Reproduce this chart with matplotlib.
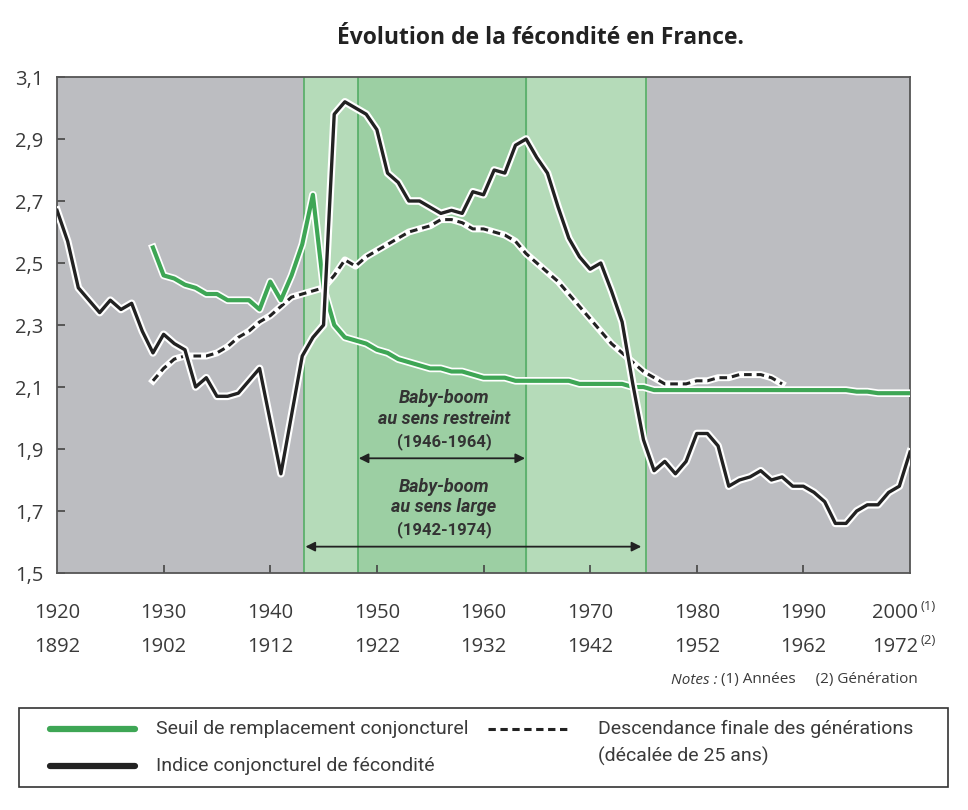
import matplotlib
matplotlib.use("Agg")
import matplotlib.pyplot as plt
import matplotlib.patheffects as pe
import matplotlib.transforms as mtransforms
from matplotlib.lines import Line2D
from matplotlib.patches import Rectangle

# indice conjoncturel de fécondité, 1920-2000
icf_years = list(range(1920, 2001))
icf = [2.67, 2.57, 2.42, 2.38, 2.34, 2.38, 2.35, 2.37, 2.28, 2.21,
       2.27, 2.24, 2.22, 2.10, 2.13, 2.07, 2.07, 2.08, 2.12, 2.16,
       1.99, 1.82, 2.01, 2.20, 2.26, 2.30, 2.98, 3.02, 3.00, 2.98,
       2.93, 2.79, 2.76, 2.70, 2.70, 2.68, 2.66, 2.67, 2.66, 2.73,
       2.72, 2.80, 2.79, 2.88, 2.90, 2.84, 2.79, 2.68, 2.58, 2.52,
       2.48, 2.50, 2.41, 2.31, 2.11, 1.93, 1.83, 1.86, 1.82, 1.86,
       1.95, 1.95, 1.91, 1.78, 1.80, 1.81, 1.83, 1.80, 1.81, 1.78,
       1.78, 1.76, 1.73, 1.66, 1.66, 1.70, 1.72, 1.72, 1.76, 1.78,
       1.89]

# seuil de remplacement conjoncturel, 1929-2000
seuil_years = list(range(1929, 2001))
seuil = [2.55, 2.46, 2.45, 2.43, 2.42, 2.40, 2.40, 2.38, 2.38, 2.38,
         2.35, 2.44, 2.38, 2.46, 2.56, 2.72, 2.42, 2.30, 2.26, 2.25,
         2.24, 2.22, 2.21, 2.19, 2.18, 2.17, 2.16, 2.16, 2.15, 2.15,
         2.14, 2.13, 2.13, 2.13, 2.12, 2.12, 2.12, 2.12, 2.12, 2.12,
         2.11, 2.11, 2.11, 2.11, 2.11, 2.10, 2.10, 2.09, 2.09, 2.09,
         2.09, 2.09, 2.09, 2.09, 2.09, 2.09, 2.09, 2.09, 2.09, 2.09,
         2.09, 2.09, 2.09, 2.09, 2.09, 2.09, 2.085, 2.085, 2.08, 2.08,
         2.08, 2.08]

# descendance finale (décalée de 25 ans), 1929-1988
desc_years = list(range(1929, 1989))
desc = [2.12, 2.16, 2.19, 2.20, 2.20, 2.20, 2.21, 2.23, 2.26, 2.28,
        2.31, 2.33, 2.36, 2.39, 2.40, 2.41, 2.42, 2.46, 2.51, 2.49,
        2.52, 2.54, 2.56, 2.58, 2.60, 2.61, 2.62, 2.64, 2.64, 2.63,
        2.61, 2.61, 2.60, 2.59, 2.57, 2.53, 2.50, 2.47, 2.44, 2.40,
        2.36, 2.32, 2.28, 2.24, 2.21, 2.18, 2.15, 2.13, 2.11, 2.11,
        2.11, 2.12, 2.12, 2.13, 2.13, 2.14, 2.14, 2.14, 2.13, 2.11]

x_ticks = [1920, 1930, 1940, 1950, 1960, 1970, 1980, 1990, 2000]
gen_labels = ["1892", "1902", "1912", "1922", "1932", "1942", "1952", "1962", "1972"]
y_ticks = [1.5, 1.7, 1.9, 2.1, 2.3, 2.5, 2.7, 2.9, 3.1]

large = (1943.2, 1975.2)
restreint = (1948.2, 1964.0)

GRAY = "#bcbdc1"
LIGHT = "#b5dbb9"
DARK = "#9ccfa3"
EDGE = "#55ad66"
GREEN = "#3ea655"
INK = "#222222"
TXT = "#3a3a3a"
NARROW = ["Roboto", "DejaVu Sans"]

plt.rcParams["font.family"] = ["Open Sans", "DejaVu Sans"]

W, H = 968, 810
fig = plt.figure(figsize=(W / 100, H / 100), dpi=100)
ax = fig.add_axes([57 / W, 1 - 573 / H, (910 - 57) / W, (573 - 77) / H])

ax.set_facecolor(GRAY)
ax.axvspan(*large, color=LIGHT, zorder=0)
ax.axvspan(*restreint, color=DARK, zorder=0)
for xv in list(large) + list(restreint):
    ax.axvline(xv, color=EDGE, lw=1.2, zorder=1)

halo = [pe.Stroke(linewidth=5.5, foreground="white", joinstyle="round"), pe.Normal()]
ax.plot(seuil_years, seuil, color=GREEN, lw=3, zorder=4, path_effects=halo,
        solid_joinstyle="round")
ax.plot(desc_years, desc, color="white", lw=5, zorder=3, solid_joinstyle="round")
ax.plot(desc_years, desc, color=INK, lw=2.2, dashes=(2.5, 1.6), zorder=3.5)
ax.plot(icf_years, icf, color=INK, lw=2.4, zorder=5, path_effects=halo,
        solid_joinstyle="round")

ax.set_xlim(1920, 2000)
ax.set_ylim(1.5, 3.1)
ax.set_xticks(x_ticks[1:-1])
ax.set_xticklabels([])
ax.set_yticks(y_ticks)
ax.set_yticklabels([f"{v:.1f}".replace(".", ",") for v in y_ticks],
                   fontsize=14.5, color=TXT)
ax.tick_params(axis="both", direction="in", length=6, width=1.2,
               color="#444444", pad=10)
for sp in ax.spines.values():
    sp.set_color("#555555")
    sp.set_linewidth(1.3)

# two rows of x labels
tr = mtransforms.blended_transform_factory(ax.transData, fig.transFigure)
for i, (yr, g) in enumerate(zip(x_ticks, gen_labels)):
    xx = yr if i < len(x_ticks) - 1 else 1998.6
    ax.text(xx, 1 - 613 / H, str(yr), transform=tr, ha="center", va="center",
            fontsize=14.5, color=TXT)
    ax.text(xx, 1 - 647 / H, g, transform=tr, ha="center", va="center",
            fontsize=14.5, color=TXT)
ax.text(2001.0, 1 - 606 / H, "(1)", transform=tr, ha="left", va="center",
        fontsize=9.5, color=TXT)
ax.text(2001.0, 1 - 640 / H, "(2)", transform=tr, ha="left", va="center",
        fontsize=9.5, color=TXT)

# baby-boom annotations
ann = dict(ha="center", va="center", color="#333333", family=NARROW)
mid = 1956.3
ax.text(mid, 2.065, "Baby-boom", style="italic", weight="bold", fontsize=13, **ann)
ax.text(mid, 1.997, "au sens restreint", style="italic", weight="bold", fontsize=13, **ann)
ax.text(mid, 1.925, "(1946-1964)", weight="bold", fontsize=12, **ann)
ax.text(mid, 1.777, "Baby-boom", style="italic", weight="bold", fontsize=13, **ann)
ax.text(mid, 1.712, "au sens large", style="italic", weight="bold", fontsize=13, **ann)
ax.text(mid, 1.640, "(1942-1974)", weight="bold", fontsize=12, **ann)
arrow = dict(arrowstyle="<|-|>", color=INK, lw=1.3, mutation_scale=14,
             shrinkA=0, shrinkB=0)
ax.annotate("", xy=(restreint[0] + 0.1, 1.87), xytext=(restreint[1] - 0.1, 1.87),
            arrowprops=arrow)
ax.annotate("", xy=(large[0] + 0.1, 1.585), xytext=(large[1] - 0.4, 1.585),
            arrowprops=arrow)

# title and notes
fig.text(540 / W, 1 - 38 / H, "Évolution de la fécondité en France.",
         ha="center", va="center", fontsize=16.5, weight="bold", color="#222222")
notes = fig.text(918 / W, 1 - 680 / H, "(1) Années     (2) Génération", ha="right",
                 va="center", fontsize=11, color=TXT)
fig.canvas.draw()
bb = notes.get_window_extent()
fig.text((bb.x0 - 4) / W, 1 - 680 / H, "Notes :", style="italic", ha="right",
         va="center", fontsize=11, color=TXT)

# legend box
fig.add_artist(Rectangle((19 / W, 1 - 787 / H), (948 - 19) / W, (787 - 708) / H,
                         transform=fig.transFigure, fill=False,
                         edgecolor="#333333", lw=1.2))
leg_font = dict(fontsize=14, color=TXT, va="center", family=NARROW)
fig.add_artist(Line2D([50 / W, 135 / W], [1 - 729 / H] * 2, color=GREEN, lw=4.5,
                      solid_capstyle="round", transform=fig.transFigure))
fig.add_artist(Line2D([50 / W, 135 / W], [1 - 766 / H] * 2, color=INK, lw=4.5,
                      solid_capstyle="round", transform=fig.transFigure))
fig.add_artist(Line2D([488 / W, 570 / W], [1 - 729 / H] * 2, color=INK, lw=2.2,
                      dashes=(2.4, 1.5), transform=fig.transFigure))
fig.text(156 / W, 1 - 729 / H, "Seuil de remplacement conjoncturel", **leg_font)
fig.text(156 / W, 1 - 766 / H, "Indice conjoncturel de fécondité", **leg_font)
fig.text(598 / W, 1 - 729 / H, "Descendance finale des générations", **leg_font)
fig.text(598 / W, 1 - 756 / H, "(décalée de 25 ans)", **leg_font)

fig.savefig("out.png", dpi=100, facecolor="white")
